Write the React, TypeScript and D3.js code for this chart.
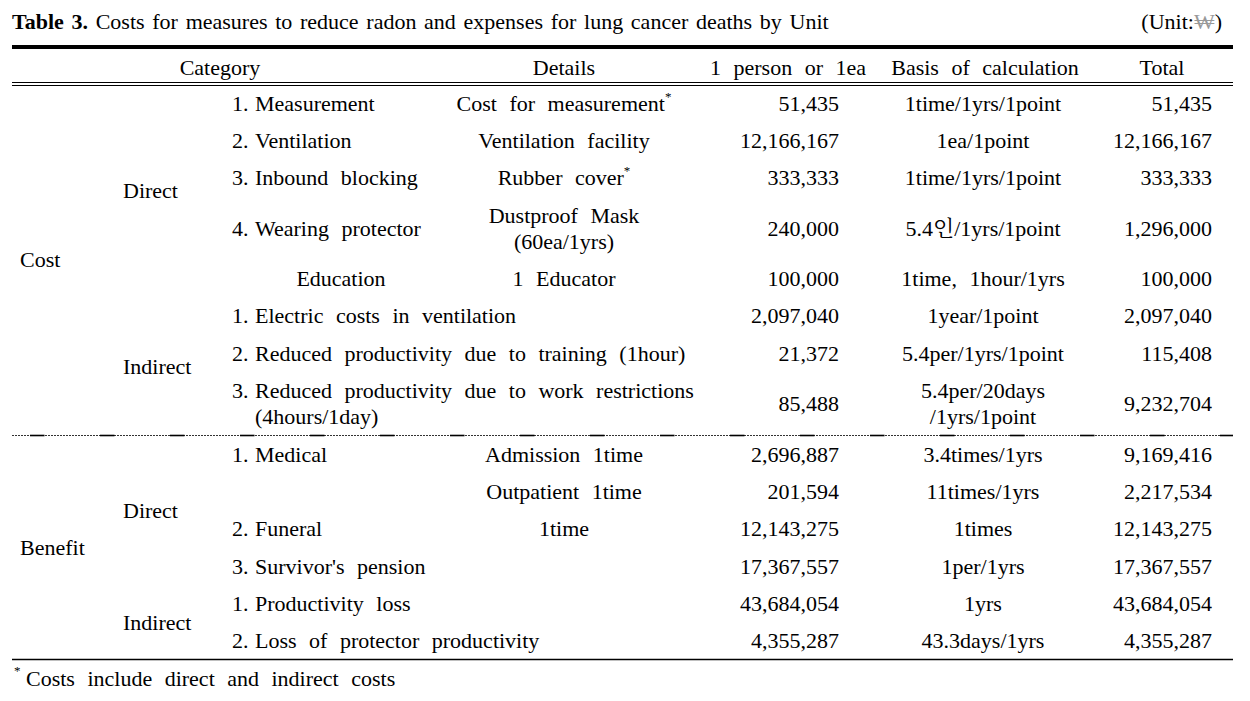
import React from "react";
import * as d3 from "d3";

// ---------- data ----------
const titleBold = "Table 3.";
const titleText = " Costs for measures to reduce radon and expenses for lung cancer deaths by Unit";
const unitText = "(Unit:";
const unitSymbol = "₩";
const headers = ["Category", "Details", "1 person or 1ea", "Basis of calculation", "Total"];
const groups = ["Cost", "Benefit"];
const rowGroup = [0, 0, 0, 0, 0, 0, 0, 0, 1, 1, 1, 1, 1, 1];
const rowSub = [
  "Direct", "Direct", "Direct", "Direct", "Direct",
  "Indirect", "Indirect", "Indirect",
  "Direct", "Direct", "Direct", "Direct",
  "Indirect", "Indirect",
];
const itemNumbers = ["1.", "2.", "3.", "4.", "", "1.", "2.", "3.", "1.", "", "2.", "3.", "1.", "2."];
const itemLabels = [
  "Measurement",
  "Ventilation",
  "Inbound blocking",
  "Wearing protector",
  "Education",
  "Electric costs in ventilation",
  "Reduced productivity due to training (1hour)",
  "Reduced productivity due to work restrictions|(4hours/1day)",
  "Medical",
  "",
  "Funeral",
  "Survivor's pension",
  "Productivity loss",
  "Loss of protector productivity",
];
const details = [
  "Cost for measurement*",
  "Ventilation facility",
  "Rubber cover*",
  "Dustproof Mask|(60ea/1yrs)",
  "1 Educator",
  "",
  "",
  "",
  "Admission 1time",
  "Outpatient 1time",
  "1time",
  "",
  "",
  "",
];
const perUnit = [51435, 12166167, 333333, 240000, 100000, 2097040, 21372, 85488, 2696887, 201594, 12143275, 17367557, 43684054, 4355287];
const basis = [
  "1time/1yrs/1point",
  "1ea/1point",
  "1time/1yrs/1point",
  "5.4인/1yrs/1point",
  "1time, 1hour/1yrs",
  "1year/1point",
  "5.4per/1yrs/1point",
  "5.4per/20days|/1yrs/1point",
  "3.4times/1yrs",
  "11times/1yrs",
  "1times",
  "1per/1yrs",
  "1yrs",
  "43.3days/1yrs",
];
const totals = [51435, 12166167, 333333, 1296000, 100000, 2097040, 115408, 9232704, 9169416, 2217534, 12143275, 17367557, 43684054, 4355287];
const footnote = "Costs include direct and indirect costs";

// ---------- layout ----------
const W = 1250;
const H = 701;
const FONT = "'Liberation Serif', 'Times New Roman', 'Noto Serif CJK KR', 'Noto Sans CJK KR', serif";
const FS = 22;
const WS = 7;
const X0 = 12;
const X1 = 1233;
const colGroup = 20;
const colSub = 123;
const colNum = 232;
const colLabel = 255;
const colLabelCenter = 341;
const colDetail = 564;
const colUnit = 839;
const colBasis = 983;
const colTotal = 1212;
const headerX = [220, 564, 788, 985, 1162];
const lineGap = 26;
const baseOff = 7.5;

const fmt = d3.format(",");

const spans = itemLabels.map((_, i) =>
  [itemLabels[i], details[i], basis[i]].some((s) => s.includes("|")) ? 1.7 : 1
);
const cum = [0];
spans.forEach((s) => cum.push(cum[cum.length - 1] + s));
const y = d3.scaleLinear().domain([0, cum[cum.length - 1]]).range([84.5, 659.5]);
const rowCenter = (i: number) => (y(cum[i]) + y(cum[i + 1])) / 2;

function spanCenter(idxs: number[]) {
  const a = d3.min(idxs)!;
  const b = d3.max(idxs)!;
  return (y(cum[a]) + y(cum[b + 1])) / 2;
}

function Multi({ text, x, cy, anchor }: { text: string; x: number; cy: number; anchor: string }) {
  const lines = text.split("|");
  const n = lines.length;
  return (
    <>
      {lines.map((ln, k) => {
        const yy = cy + (k - (n - 1) / 2) * lineGap + baseOff;
        const star = ln.endsWith("*");
        const body = star ? ln.slice(0, -1) : ln;
        return (
          <text key={k} x={x} y={yy} textAnchor={anchor}>
            {body}
            {star && (
              <tspan fontSize={13} dy={-10}>
                *
              </tspan>
            )}
          </text>
        );
      })}
    </>
  );
}

export default function App() {
  const groupIdx = groups.map((_, g) => d3.range(rowGroup.length).filter((i) => rowGroup[i] === g));
  const subBlocks: { label: string; idxs: number[] }[] = [];
  rowSub.forEach((s, i) => {
    const last = subBlocks[subBlocks.length - 1];
    if (last && last.label === s && rowGroup[last.idxs[0]] === rowGroup[i]) last.idxs.push(i);
    else subBlocks.push({ label: s, idxs: [i] });
  });
  const sepY = Math.round(y(cum[groupIdx[0].length])) + 0.5;
  const dashSolid = d3.range(X0 + 18, X1, 70);

  return (
    <svg
      width={W}
      height={H}
      style={{ position: "absolute", left: 0, top: 0, background: "#fff" }}
      fontFamily={FONT}
      fontSize={FS}
      fill="#000"
      wordSpacing={WS}
    >
      <rect x={0} y={0} width={W} height={H} fill="#fff" />
      {/* title */}
      <text x={X0} y={29} wordSpacing={2.2}>
        <tspan fontWeight="bold">{titleBold}</tspan>
        <tspan>{titleText}</tspan>
      </text>
      <text x={1222} y={29} textAnchor="end" wordSpacing={0}>
        {unitText}
        <tspan fill="#999">{unitSymbol}</tspan>)
      </text>

      {/* rules */}
      <line x1={X0} x2={X1} y1={47} y2={47} stroke="#000" strokeWidth={4} />
      <line x1={X0} x2={X1} y1={82.5} y2={82.5} stroke="#000" strokeWidth={1.2} />
      <line x1={X0} x2={X1} y1={85.5} y2={85.5} stroke="#000" strokeWidth={1.2} />
      <line x1={X0} x2={X1} y1={659.5} y2={659.5} stroke="#000" strokeWidth={1.3} />
      <line x1={X0} x2={X1} y1={sepY} y2={sepY} stroke="#333" strokeWidth={1.2} strokeDasharray="2,1" />
      {dashSolid.map((x, k) => (
        <line key={k} x1={x} x2={Math.min(x + 14.5, X1)} y1={sepY} y2={sepY} stroke="#000" strokeWidth={1.6} />
      ))}

      {/* header */}
      {headers.map((h, k) => (
        <text key={k} x={headerX[k]} y={67 + baseOff} textAnchor="middle">
          {h}
        </text>
      ))}

      {/* groups */}
      {groups.map((g, k) => (
        <text key={g} x={colGroup} y={spanCenter(groupIdx[k]) + baseOff}>
          {g}
        </text>
      ))}
      {subBlocks.map((b, k) => (
        <text key={k} x={colSub} y={spanCenter(b.idxs) + baseOff}>
          {b.label}
        </text>
      ))}

      {/* rows */}
      {itemLabels.map((lab, i) => {
        const cy = rowCenter(i);
        const lines = lab.split("|");
        return (
          <g key={i}>
            {itemNumbers[i] && lab && (
              <>
                <text x={colNum} y={cy - ((lines.length - 1) / 2) * lineGap + baseOff}>
                  {itemNumbers[i]}
                </text>
                <Multi text={lab} x={colLabel} cy={cy} anchor="start" />
              </>
            )}
            {!itemNumbers[i] && lab && <Multi text={lab} x={colLabelCenter} cy={cy} anchor="middle" />}
            {details[i] && <Multi text={details[i]} x={colDetail} cy={cy} anchor="middle" />}
            <text x={colUnit} y={cy + baseOff} textAnchor="end">
              {fmt(perUnit[i])}
            </text>
            <Multi text={basis[i]} x={colBasis} cy={cy} anchor="middle" />
            <text x={colTotal} y={cy + baseOff} textAnchor="end">
              {fmt(totals[i])}
            </text>
          </g>
        );
      })}

      {/* footnote */}
      <text x={14} y={675} fontSize={13}>
        *
      </text>
      <text x={26} y={686}>
        {footnote}
      </text>
    </svg>
  );
}
